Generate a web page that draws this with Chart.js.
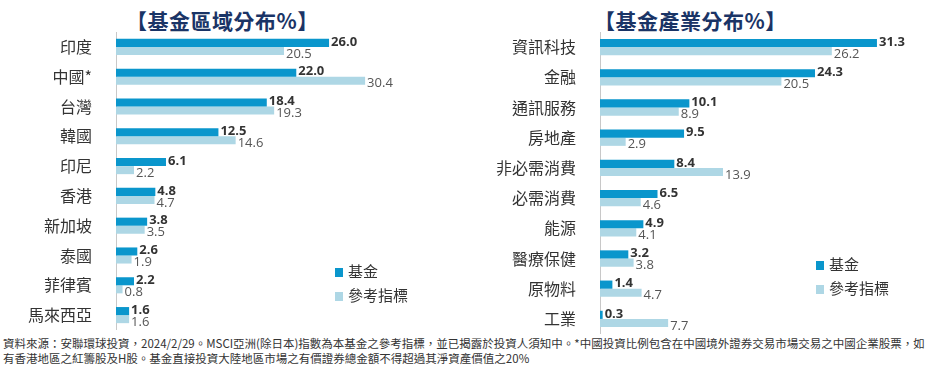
<!DOCTYPE html>
<html>
<head>
<meta charset="utf-8">
<script src="https://cdn.jsdelivr.net/npm/chart.js@4.4.1/dist/chart.umd.min.js"></script>
<style>
  html, body { margin: 0; padding: 0; background: #fff; }
  body { width: 938px; height: 367px; position: relative; overflow: hidden;
         font-family: "Noto Sans CJK TC", "Noto Sans", sans-serif; }
  .title { position: absolute; top: 5px; font-size: 21px; font-weight: bold; color: #1a3466;
           white-space: nowrap; letter-spacing: 0.5px; }
  .box { position: absolute; }
  .legend { position: absolute; font-size: 15px; color: #333; line-height: 24px; }
  .legend span.sw { display: inline-block; width: 8px; height: 9px; margin-right: 5px; }
  .foot { position: absolute; left: 3px; top: 336px; font-size: 11.5px; color: #333; line-height: 15px;
          white-space: nowrap; }
</style>
</head>
<body>
<div class="title" style="left:126px">【基金區域分布%】</div>
<div class="title" style="left:594px">【基金產業分布%】</div>

<div class="box" style="left:0; top:32px; width:470px; height:298px;"><canvas id="c-region"></canvas></div>
<div class="box" style="left:470px; top:32px; width:468px; height:302px;"><canvas id="c-sector"></canvas></div>

<div class="legend" style="left:335px; top:259px;">
  <div><span class="sw" style="background:#0a96cc"></span>基金</div>
  <div><span class="sw" style="background:#aed7e5"></span>參考指標</div>
</div>
<div class="legend" style="left:816px; top:252px;">
  <div><span class="sw" style="background:#0a96cc"></span>基金</div>
  <div><span class="sw" style="background:#aed7e5"></span>參考指標</div>
</div>

<div class="foot">資料來源：安聯環球投資，2024/2/29。MSCI亞洲(除日本)指數為本基金之參考指標，並已揭露於投資人須知中。*中國投資比例包含在中國境外證券交易市場交易之中國企業股票，如<br>有香港地區之紅籌股及H股。基金直接投資大陸地區市場之有價證券總金額不得超過其淨資產價值之20%</div>

<script>
// Data
const regionLabels = ["印度", "中國*", "台灣", "韓國", "印尼", "香港", "新加坡", "泰國", "菲律賓", "馬來西亞"];
const regionFund = [26.0, 22.0, 18.4, 12.5, 6.1, 4.8, 3.8, 2.6, 2.2, 1.6];
const regionBench = [20.5, 30.4, 19.3, 14.6, 2.2, 4.7, 3.5, 1.9, 0.8, 1.6];

const sectorLabels = ["資訊科技", "金融", "通訊服務", "房地產", "非必需消費", "必需消費", "能源", "醫療保健", "原物料", "工業"];
const sectorFund = [31.3, 24.3, 10.1, 9.5, 8.4, 6.5, 4.9, 3.2, 1.4, 0.3];
const sectorBench = [26.2, 20.5, 8.9, 2.9, 13.9, 4.6, 4.1, 3.8, 4.7, 7.7];

const FUND_COLOR = "#0a96cc";
const BENCH_COLOR = "#aed7e5";

// draws value labels at the end of each bar
const valueLabels = {
  id: "valueLabels",
  afterDatasetsDraw(chart) {
    const ctx = chart.ctx;
    ctx.save();
    ctx.textBaseline = "middle";
    ctx.textAlign = "left";
    chart.data.datasets.forEach((ds, di) => {
      const meta = chart.getDatasetMeta(di);
      meta.data.forEach((bar, i) => {
        const v = ds.data[i];
        if (di === 0) {
          ctx.font = "bold 13px 'Open Sans', sans-serif";
          ctx.fillStyle = "#333";
          ctx.fillText(v.toFixed(1), bar.x + 2, bar.y - 1);
        } else {
          ctx.font = "13px 'Open Sans', sans-serif";
          ctx.fillStyle = "#555";
          ctx.fillText(v.toFixed(1), bar.x + 2, bar.y + 3);
        }
      });
    });
    ctx.restore();
  },
};

function makeChart(id, labels, fund, bench, axisWidth, xMax) {
  return new Chart(document.getElementById(id), {
    type: "bar",
    data: {
      labels,
      datasets: [
        { label: "基金", data: fund, backgroundColor: FUND_COLOR,
          barPercentage: 1.0, categoryPercentage: 0.54 },
        { label: "參考指標", data: bench, backgroundColor: BENCH_COLOR,
          barPercentage: 1.0, categoryPercentage: 0.54 },
      ],
    },
    options: {
      indexAxis: "y",
      responsive: true,
      maintainAspectRatio: false,
      animation: false,
      layout: { padding: 0 },
      scales: {
        x: { display: false, min: 0, max: xMax },
        y: {
          grid: { display: false },
          border: { display: true, color: "#c8c8c8", width: 1 },
          ticks: {
            color: "#333",
            padding: 16,
            font: { size: 16, family: "'Noto Sans CJK TC', sans-serif" },
          },
          afterFit(scale) {
            scale.width = axisWidth;
            scale.paddingTop = 0;
            scale.paddingBottom = 0;
          },
        },
      },
      plugins: {
        legend: { display: false },
        tooltip: { enabled: false },
      },
    },
    plugins: [valueLabels],
  });
}

makeChart("c-region", regionLabels, regionFund, regionBench, 116, 43.2);
makeChart("c-sector", sectorLabels, sectorFund, sectorBench, 130, 38.2);
</script>
</body>
</html>
